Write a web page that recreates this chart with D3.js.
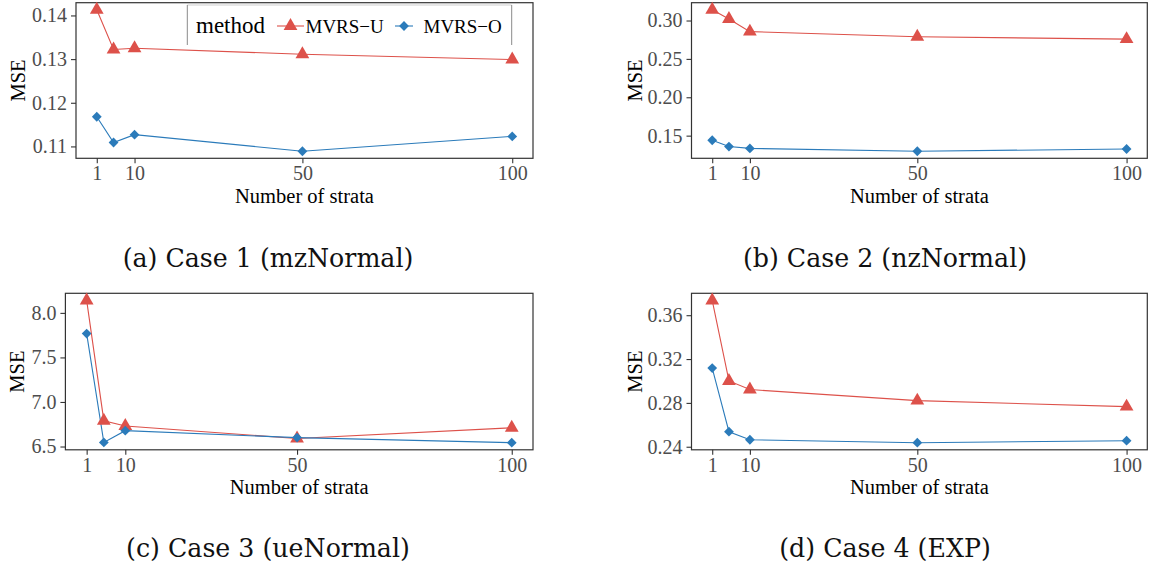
<!DOCTYPE html>
<html>
<head>
<meta charset="utf-8">
<script src="https://cdn.jsdelivr.net/npm/d3@7/dist/d3.min.js"></script>
<style>
  html, body { margin: 0; padding: 0; background: #fff; }
  svg { display: block; }
  text { font-family: "Liberation Serif", "Times New Roman", serif; }
</style>
</head>
<body>
<svg id="chart" width="1154" height="569"></svg>
<script>
// ---------------- data ----------------
const strata = [1, 5, 10, 50, 100];
const xTickValues = [1, 10, 50, 100];
const methods = ["MVRS\u2212U", "MVRS\u2212O"];
const legendTitle = "method";
const xTitle = "Number of strata";
const yTitle = "MSE";

const case1U = [0.1413, 0.1322, 0.1325, 0.1311, 0.1299];
const case1O = [0.1168, 0.1109, 0.1127, 0.1089, 0.1123];
const case2U = [0.3140, 0.3020, 0.2855, 0.2789, 0.2758];
const case2O = [0.1440, 0.1358, 0.1334, 0.1297, 0.1326];
const case3U = [8.140, 6.790, 6.730, 6.590, 6.710];
const case3O = [7.768, 6.546, 6.678, 6.600, 6.543];
const case4U = [0.3735, 0.3000, 0.2922, 0.2821, 0.2766];
const case4O = [0.3118, 0.2537, 0.2464, 0.2437, 0.2455];

const yTicks1 = [0.11, 0.12, 0.13, 0.14];
const yTicks2 = [0.15, 0.20, 0.25, 0.30];
const yTicks3 = [6.5, 7.0, 7.5, 8.0];
const yTicks4 = [0.24, 0.28, 0.32, 0.36];

const captions = ["(a) Case 1 (mzNormal)", "(b) Case 2 (nzNormal)",
                  "(c) Case 3 (ueNormal)", "(d) Case 4 (EXP)"];

// ---------------- styling / layout ----------------
const colors = ["#DD514A", "#2B7BBA"];
const serif = "'Liberation Serif', 'Times New Roman', serif";
const capSerif = "'DejaVu Serif', 'Liberation Serif', serif";
const svg = d3.select("#chart");

const panels = [
  {U: case1U, O: case1O, ticks: yTicks1, fmt: ".2f", left: 76,    right: 533,    top: 2.7,   bottom: 158.3, ytx: 25,    cap: captions[0], capX: 268, capY: 267, legend: true},
  {U: case2U, O: case2O, ticks: yTicks2, fmt: ".2f", left: 691.5, right: 1147.3, top: 2.7,   bottom: 158.3, ytx: 641.6, cap: captions[1], capX: 885, capY: 267},
  {U: case3U, O: case3O, ticks: yTicks3, fmt: ".1f", left: 65.4,  right: 533,    top: 293.3, bottom: 449.8, ytx: 24.3,  cap: captions[2], capX: 268, capY: 557},
  {U: case4U, O: case4O, ticks: yTicks4, fmt: ".2f", left: 691.5, right: 1147.3, top: 293.3, bottom: 449.8, ytx: 641.6, cap: captions[3], capX: 885, capY: 557}
];

function expand(lo, hi) {
  const d = (hi - lo) * 0.05;
  return [lo - d, hi + d];
}

const triSym = d3.symbol().type(d3.symbolTriangle).size(82);
const diaSym = d3.symbol().type(d3.symbolSquare).size(48);

panels.forEach(p => {
  const g = svg.append("g");
  const x = d3.scaleLinear().domain(expand(d3.min(strata), d3.max(strata))).range([p.left, p.right]);
  const all = p.U.concat(p.O);
  const y = d3.scaleLinear().domain(expand(d3.min(all), d3.max(all))).range([p.bottom, p.top]);

  // axes
  const xAxis = d3.axisBottom(x).tickValues(xTickValues).tickSize(5).tickPadding(3).tickFormat(d3.format("d"));
  const yAxis = d3.axisLeft(y).tickValues(p.ticks).tickSize(5).tickPadding(4).tickFormat(d3.format(p.fmt));
  const gx = g.append("g").attr("transform", `translate(0,${p.bottom})`).call(xAxis);
  const gy = g.append("g").attr("transform", `translate(${p.left},0)`).call(yAxis);
  [gx, gy].forEach(a => {
    a.select(".domain").remove();
    a.selectAll(".tick line").attr("stroke", "#333").attr("stroke-width", 1.1);
    a.selectAll(".tick text").attr("fill", "#4D4D4D").style("font-size", "20px")
      .style("font-family", serif);
  });

  // panel border
  g.append("rect").attr("x", p.left).attr("y", p.top)
    .attr("width", p.right - p.left).attr("height", p.bottom - p.top)
    .attr("fill", "none").attr("stroke", "#333").attr("stroke-width", 1.2);

  // lines then points
  const series = [p.U, p.O];
  const line = d3.line().x((d, i) => x(strata[i])).y(d => y(d));
  series.forEach((s, k) => {
    g.append("path").datum(s).attr("d", line).attr("fill", "none")
      .attr("stroke", colors[k]).attr("stroke-width", 1.1);
  });
  g.selectAll("path.tri").data(p.U).enter().append("path").attr("class", "tri")
    .attr("d", triSym).attr("fill", colors[0])
    .attr("transform", (d, i) => `translate(${x(strata[i])},${y(d)})`);
  g.selectAll("path.dia").data(p.O).enter().append("path").attr("class", "dia")
    .attr("d", diaSym).attr("fill", colors[1])
    .attr("transform", (d, i) => `translate(${x(strata[i])},${y(d)}) rotate(45)`);

  // titles
  g.append("text").attr("x", (p.left + p.right) / 2).attr("y", p.bottom + 44.5)
    .attr("text-anchor", "middle").style("font-size", "20.5px").style("font-family", serif)
    .attr("fill", "#000").text(xTitle);
  g.append("text").attr("transform", `translate(${p.ytx},${(p.top + p.bottom) / 2}) rotate(-90)`)
    .attr("text-anchor", "middle").style("font-size", "20.5px").style("font-family", serif)
    .attr("fill", "#000").text(yTitle);

  // caption
  p.capNode = svg.append("text").attr("x", p.capX).attr("y", p.capY)
    .attr("text-anchor", "middle").style("font-size", "24px").style("font-family", capSerif)
    .style("font-weight", "300").attr("fill", "#111").text(p.cap);

  // legend
  if (p.legend) {
    const lg = svg.append("g");
    lg.append("rect").attr("x", 187.3).attr("y", 5).attr("width", 324.4).attr("height", 40).attr("fill", "#fff");
    lg.append("line").attr("x1", 187.3).attr("x2", 511.7).attr("y1", 5).attr("y2", 5).attr("stroke", "#cfcfcf").attr("stroke-width", 1);
    lg.append("line").attr("x1", 187.3).attr("x2", 187.3).attr("y1", 5).attr("y2", 45).attr("stroke", "#8a8a8a").attr("stroke-width", 1);
    lg.append("line").attr("x1", 511.7).attr("x2", 511.7).attr("y1", 5).attr("y2", 45).attr("stroke", "#8a8a8a").attr("stroke-width", 1);
    lg.append("text").attr("x", 196).attr("y", 33.3).style("font-size", "23px").style("font-family", serif)
      .attr("fill", "#000").text(legendTitle);
    const keys = [{x0: 277, x1: 304, tx: 305.5}, {x0: 395, x1: 413, tx: 423.5}];
    keys.forEach((k, i) => {
      lg.append("line").attr("x1", k.x0).attr("x2", k.x1).attr("y1", 26).attr("y2", 26)
        .attr("stroke", colors[i]).attr("stroke-width", 1.1);
      lg.append("path").attr("d", i === 0 ? triSym : diaSym).attr("fill", colors[i])
        .attr("transform", `translate(${(k.x0 + k.x1) / 2},26)` + (i === 1 ? " rotate(45)" : ""));
      lg.append("text").attr("x", k.tx).attr("y", 33.3).style("font-size", "19px").style("font-family", serif)
        .attr("fill", "#000").text(methods[i]);
    });
  }
});

// size captions so that caption (a) spans the same width as in the reference
const refW = panels[0].capNode.node().getComputedTextLength();
const capSize = 24 * 291 / refW;
panels.forEach(p => p.capNode.style("font-size", capSize + "px"));
</script>
</body>
</html>
